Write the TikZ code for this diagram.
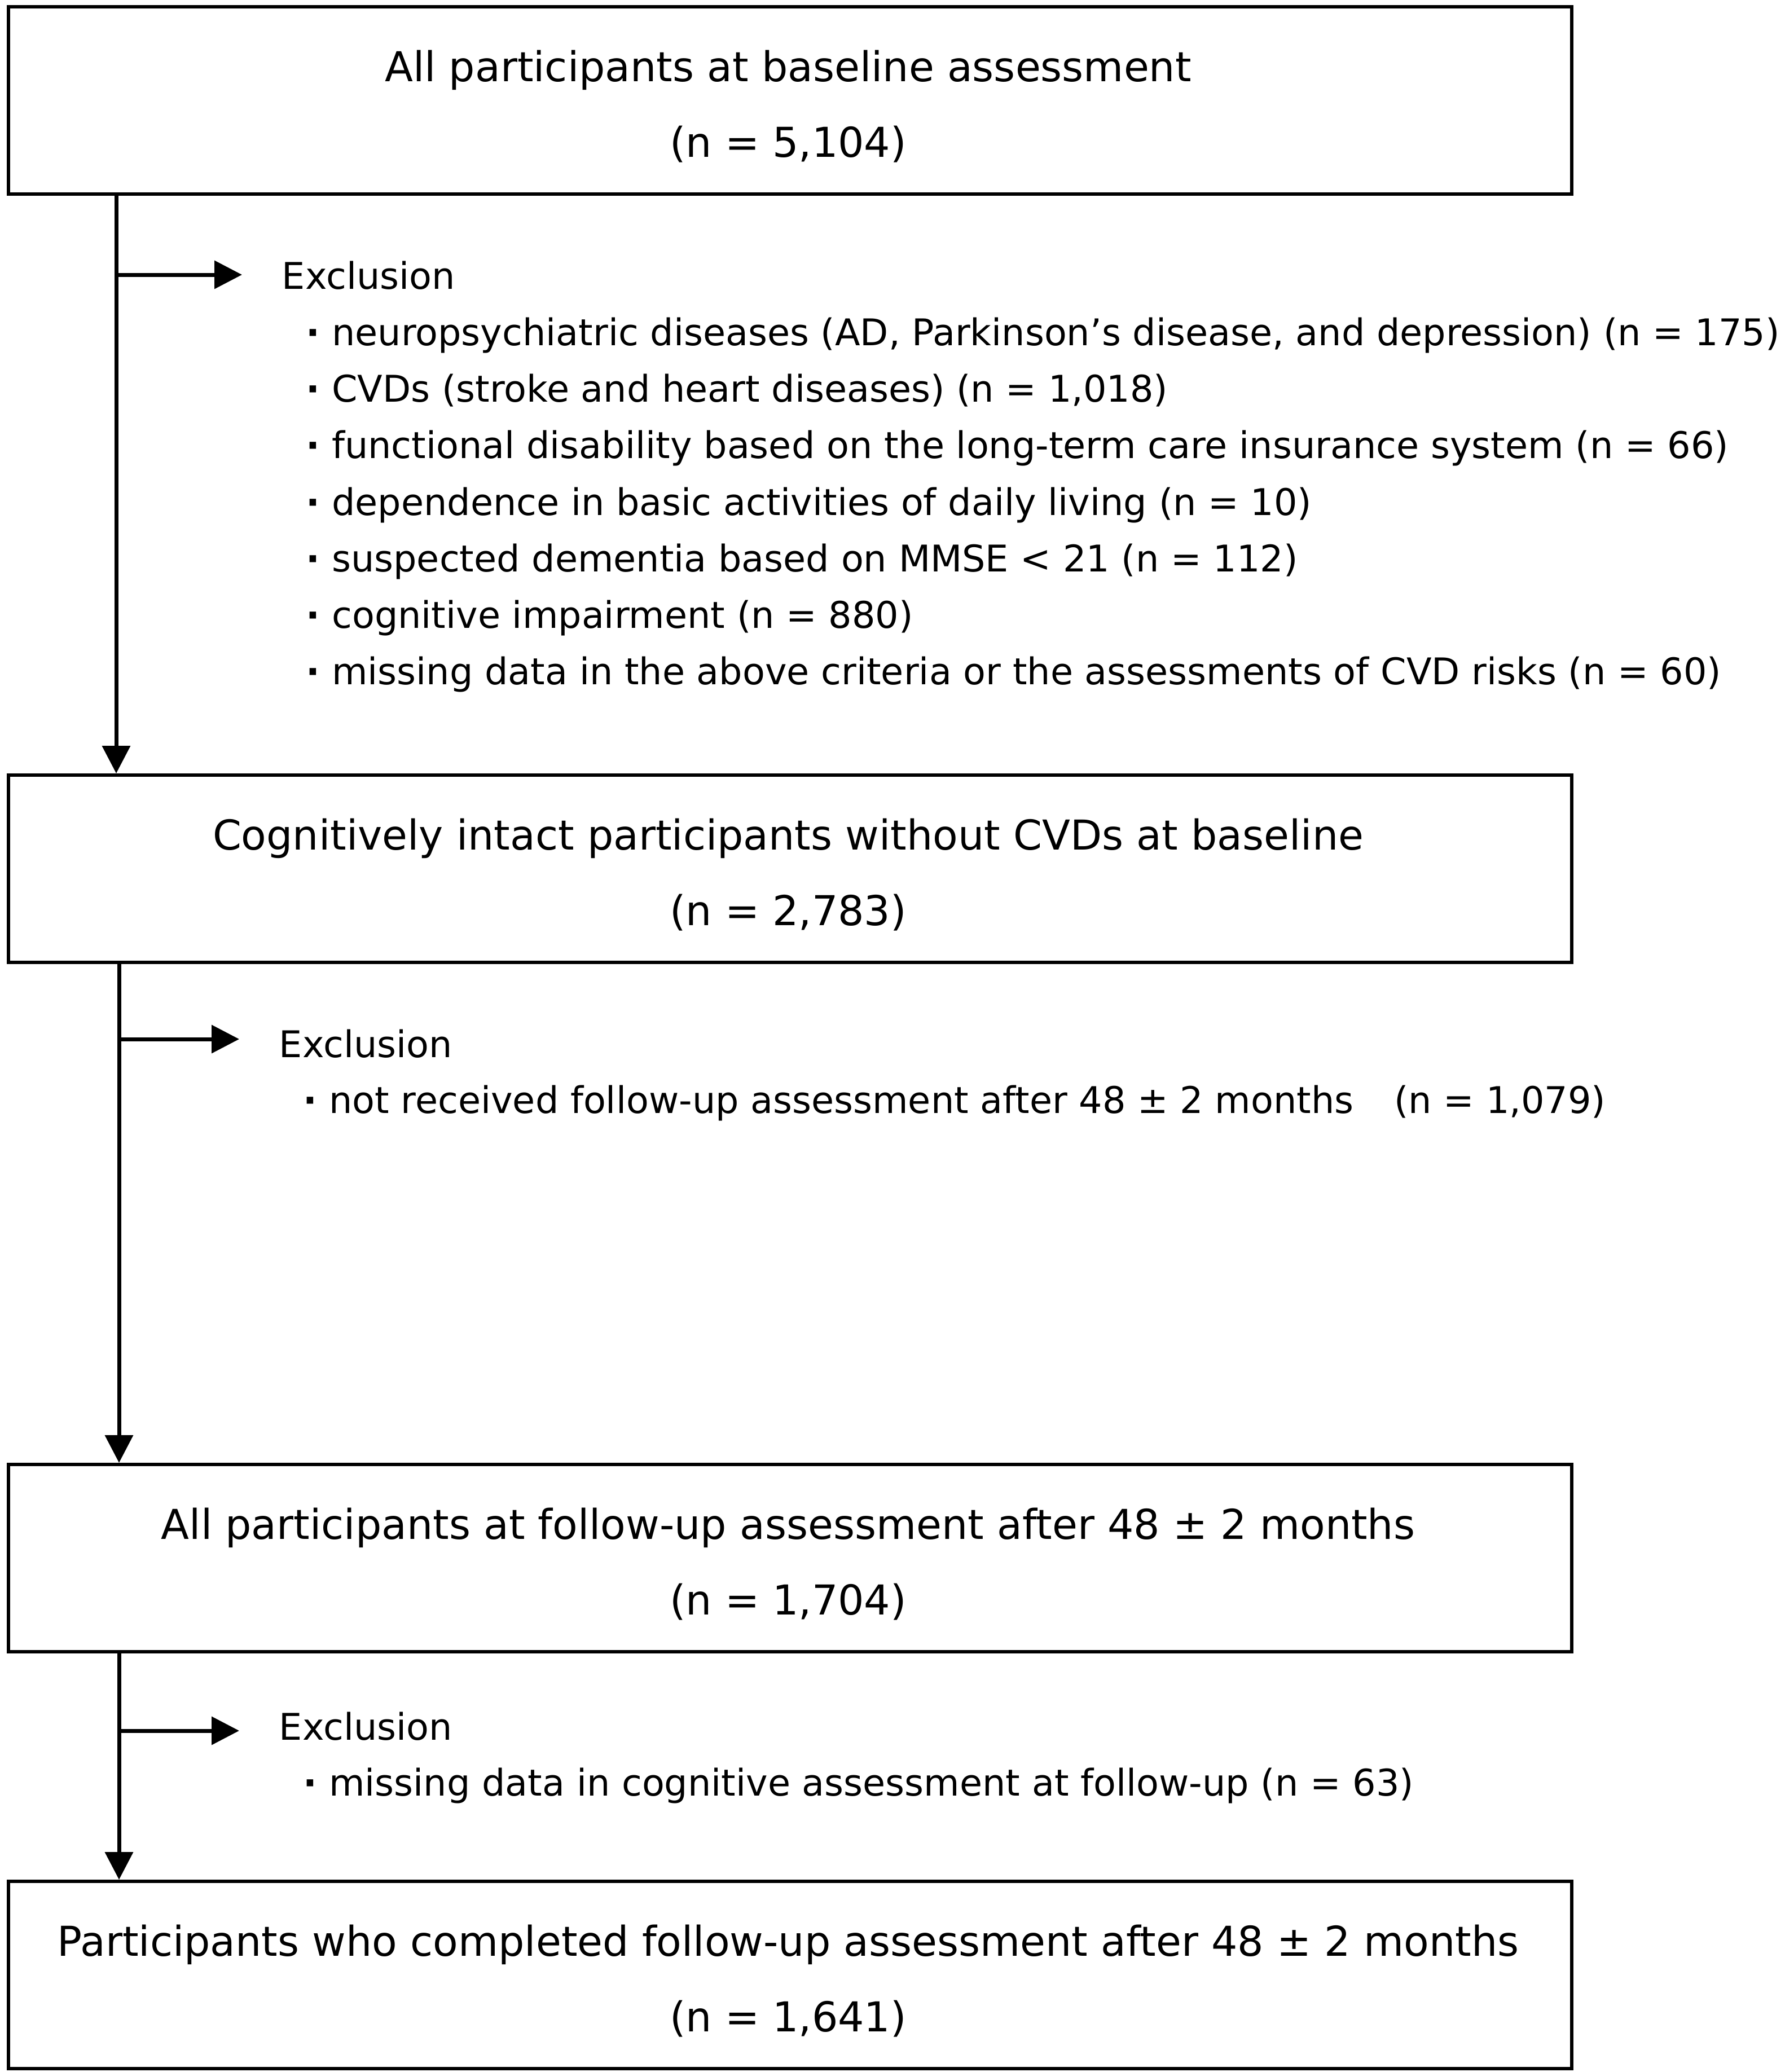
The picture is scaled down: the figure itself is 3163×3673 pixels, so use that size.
\documentclass[tikz,border=0pt]{standalone}
\usepackage{fontspec}
\setmainfont{DejaVu Sans}
\usetikzlibrary{arrows.meta}
\newcommand{\bul}{\textbf{·}\ }
\begin{document}
\begin{tikzpicture}[x=0.25pt,y=-0.25pt,
  box/.style={draw, line width=1.5pt, minimum width=692.75pt, minimum height=83pt, inner sep=0pt, anchor=north west},
  btext/.style={font=\fontsize{18.25}{22}\selectfont, inner sep=0pt, anchor=base},
  itext/.style={font=\fontsize{16.3}{20}\selectfont, inner sep=0pt, anchor=base west},
  conn/.style={line width=1.75pt, -{Triangle[length=12.25pt,width=12.25pt]}},
  ]
\useasboundingbox[fill=white] (0,0) rectangle (3163,3673);
% boxes
\node[box] (b1) at (12,9) {};
\node[box] (b2) at (12,1371) {};
\node[box] (b3) at (12,2593) {};
\node[box] (b4) at (12,3332) {};
% box texts
\node[btext] (b1a) at (1397,144) {All participants at baseline assessment};
\node[btext] (b1b) at (1397,278) {(n = 5,104)};
\node[btext] (b2a) at (1397,1506) {Cognitively intact participants without CVDs at baseline};
\node[btext] (b2b) at (1397,1640) {(n = 2,783)};
\node[btext] (b3a) at (1397,2728) {All participants at follow-up assessment after 48 ± 2 months};
\node[btext] (b3b) at (1397,2862) {(n = 1,704)};
\node[btext] (b4a) at (1397,3467) {Participants who completed follow-up assessment after 48 ± 2 months};
\node[btext] (b4b) at (1397,3601) {(n = 1,641)};
% exclusion 1
\node[itext] (x1) at (499,512) {Exclusion};
\node[itext] (x1a) at (542,612) {\bul neuropsychiatric diseases (AD, Parkinson’s disease, and depression) (n = 175)};
\node[itext] (x1b) at (542,712) {\bul CVDs (stroke and heart diseases) (n = 1,018)};
\node[itext] (x1c) at (542,812) {\bul functional disability based on the long-term care insurance system (n = 66)};
\node[itext] (x1d) at (542,913) {\bul dependence in basic activities of daily living (n = 10)};
\node[itext] (x1e) at (542,1013) {\bul suspected dementia based on MMSE < 21 (n = 112)};
\node[itext] (x1f) at (542,1113) {\bul cognitive impairment (n = 880)};
\node[itext] (x1g) at (542,1213) {\bul missing data in the above criteria or the assessments of CVD risks (n = 60)};
% exclusion 2
\node[itext] (x2) at (494,1874) {Exclusion};
\node[itext] (x2a) at (537,1973) {\bul not received follow-up assessment after 48 ± 2 months\hspace{18pt}(n = 1,079)};
% exclusion 3
\node[itext] (x3) at (494,3084) {Exclusion};
\node[itext] (x3a) at (537,3183) {\bul missing data in cognitive assessment at follow-up (n = 63)};
% connectors
\coordinate (v1) at (206,0);
\coordinate (v2) at (211,0);
\coordinate (t1) at (429,487);
\coordinate (t2) at (424,1842);
\coordinate (t3) at (424,3068);
\draw[conn] (b1.south -| v1) -- (b2.north -| v1);
\draw[conn] (v1 |- t1) -- (t1);
\draw[conn] (b2.south -| v2) -- (b3.north -| v2);
\draw[conn] (v2 |- t2) -- (t2);
\draw[conn] (b3.south -| v2) -- (b4.north -| v2);
\draw[conn] (v2 |- t3) -- (t3);
\end{tikzpicture}
\end{document}
